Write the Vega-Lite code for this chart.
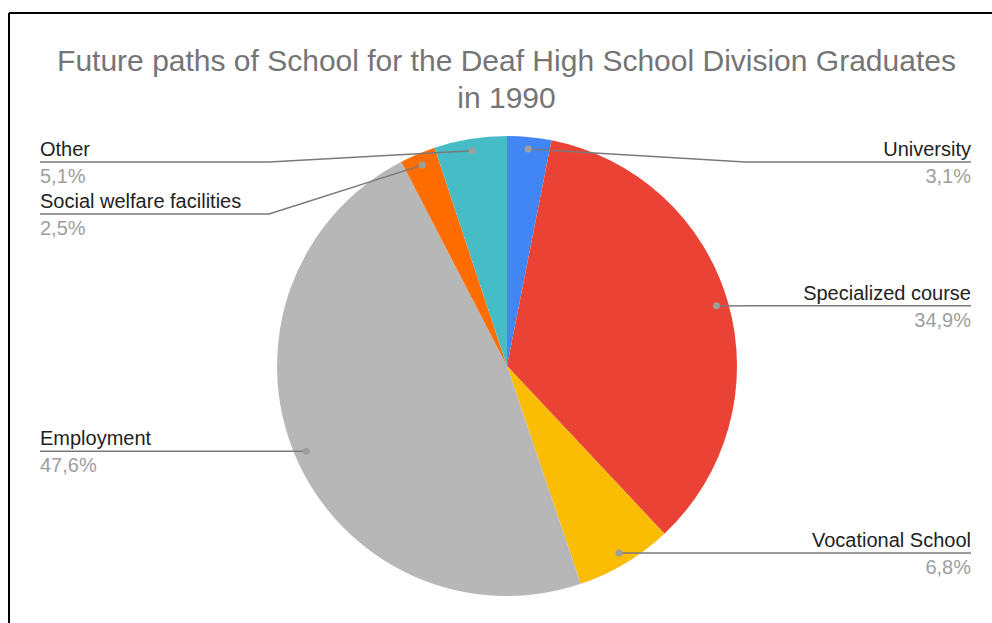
{
  "$schema": "https://vega.github.io/schema/vega-lite/v6.json",
  "width": 983,
  "height": 610,
  "autosize": {"type": "none"},
  "padding": {"left": 9, "top": 13, "right": 0, "bottom": 0},
  "background": "white",
  "title": {
    "text": ["Future paths of School for the Deaf High School Division Graduates", "in 1990"],
    "font": "Liberation Sans",
    "fontSize": 30,
    "fontWeight": "normal",
    "color": "#757575",
    "lineHeight": 37,
    "anchor": "middle",
    "frame": "group",
    "dx": 6,
    "offset": -101
  },
  "config": {
    "view": {"stroke": null},
    "axis": {
      "labels": false,
      "ticks": false,
      "grid": false,
      "title": null,
      "domain": true,
      "domainColor": "#000000",
      "domainWidth": 2,
      "translate": 0
    },
    "text": {"font": "Liberation Sans", "fontSize": 20}
  },
  "data": {
    "values": [
      {"path": "University", "share": 3.1, "order": 1},
      {"path": "Specialized course", "share": 34.9, "order": 2},
      {"path": "Vocational School", "share": 6.8, "order": 3},
      {"path": "Employment", "share": 47.6, "order": 4},
      {"path": "Social welfare facilities", "share": 2.5, "order": 5},
      {"path": "Other", "share": 5.1, "order": 6}
    ]
  },
  "transform": [
    {"stack": "share", "groupby": [], "sort": [{"field": "order", "order": "ascending"}], "as": ["start", "end"]},
    {"calculate": "PI * (datum.start + datum.end) / 100", "as": "ang"},
    {"calculate": "218 * sin(datum.ang)", "as": "dotX"},
    {"calculate": "-218 * cos(datum.ang)", "as": "dotY"},
    {"calculate": "datum.dotX >= 0 ? 'right' : 'left'", "as": "side"},
    {"window": [{"op": "row_number", "as": "rn"}], "groupby": ["side"], "sort": [{"field": "dotY", "order": "ascending"}]},
    {"calculate": "datum.dotY - 52 * (datum.rn - 1)", "as": "k"},
    {"window": [{"op": "max", "field": "k", "as": "kmax"}], "groupby": ["side"], "sort": [{"field": "dotY", "order": "ascending"}], "frame": [null, 0]},
    {"calculate": "52 * (datum.rn - 1) + max(-204, datum.kmax)", "as": "labelY"},
    {"calculate": "datum.side == 'right' ? 238 : -238", "as": "elbowX"},
    {"calculate": "datum.side == 'right' ? 464 : -467", "as": "endX"},
    {"calculate": "replace(format(datum.share, '.1f'), '.', ',') + '%'", "as": "pctLabel"}
  ],
  "layer": [
    {
      "mark": {"type": "arc", "outerRadius": 230},
      "encoding": {
        "x": {"datum": 0, "type": "quantitative", "scale": {"domain": [-498, 485], "nice": false, "zero": false}, "axis": {"orient": "top"}},
        "y": {"datum": 0, "type": "quantitative", "scale": {"domain": [-353, 257], "reverse": true, "nice": false, "zero": false}, "axis": {"orient": "left"}},
        "theta": {"field": "start", "type": "quantitative", "scale": {"domain": [0, 100], "range": [0, 6.283185307179586]}, "stack": null},
        "theta2": {"field": "end"},
        "color": {
          "field": "path",
          "type": "nominal",
          "scale": {
            "domain": ["University", "Specialized course", "Vocational School", "Employment", "Social welfare facilities", "Other"],
            "range": ["#4285F4", "#EA4335", "#FBBC04", "#B7B7B7", "#FF6D01", "#46BDC6"]
          },
          "legend": null
        }
      }
    },
    {
      "mark": {"type": "rule", "color": "#7A7A7A", "strokeWidth": 1.5},
      "encoding": {
        "x": {"field": "dotX", "type": "quantitative", "scale": {"domain": [-498, 485], "nice": false, "zero": false}, "axis": {"orient": "top"}},
        "y": {"field": "dotY", "type": "quantitative", "scale": {"domain": [-353, 257], "reverse": true, "nice": false, "zero": false}, "axis": {"orient": "left"}},
        "x2": {"field": "elbowX"},
        "y2": {"field": "labelY"}
      }
    },
    {
      "mark": {"type": "rule", "color": "#7A7A7A", "strokeWidth": 1.5},
      "encoding": {
        "x": {"field": "elbowX", "type": "quantitative", "scale": {"domain": [-498, 485], "nice": false, "zero": false}, "axis": {"orient": "top"}},
        "y": {"field": "labelY", "type": "quantitative", "scale": {"domain": [-353, 257], "reverse": true, "nice": false, "zero": false}, "axis": {"orient": "left"}},
        "x2": {"field": "endX"},
        "y2": {"field": "labelY"}
      }
    },
    {
      "mark": {"type": "point", "filled": true, "size": 50, "color": "#9E9E9E", "opacity": 1},
      "encoding": {
        "x": {"field": "dotX", "type": "quantitative", "scale": {"domain": [-498, 485], "nice": false, "zero": false}, "axis": {"orient": "top"}},
        "y": {"field": "dotY", "type": "quantitative", "scale": {"domain": [-353, 257], "reverse": true, "nice": false, "zero": false}, "axis": {"orient": "left"}}
      }
    },
    {
      "transform": [{"filter": "datum.side == 'right'"}],
      "mark": {"type": "text", "align": "right", "baseline": "alphabetic", "dy": -6, "color": "#222222"},
      "encoding": {
        "x": {"field": "endX", "type": "quantitative", "scale": {"domain": [-498, 485], "nice": false, "zero": false}, "axis": {"orient": "top"}},
        "y": {"field": "labelY", "type": "quantitative", "scale": {"domain": [-353, 257], "reverse": true, "nice": false, "zero": false}, "axis": {"orient": "left"}},
        "text": {"field": "path"}
      }
    },
    {
      "transform": [{"filter": "datum.side == 'left'"}],
      "mark": {"type": "text", "align": "left", "baseline": "alphabetic", "dy": -6, "color": "#222222"},
      "encoding": {
        "x": {"field": "endX", "type": "quantitative", "scale": {"domain": [-498, 485], "nice": false, "zero": false}, "axis": {"orient": "top"}},
        "y": {"field": "labelY", "type": "quantitative", "scale": {"domain": [-353, 257], "reverse": true, "nice": false, "zero": false}, "axis": {"orient": "left"}},
        "text": {"field": "path"}
      }
    },
    {
      "transform": [{"filter": "datum.side == 'right'"}],
      "mark": {"type": "text", "align": "right", "baseline": "alphabetic", "dy": 21, "color": "#9E9E9E"},
      "encoding": {
        "x": {"field": "endX", "type": "quantitative", "scale": {"domain": [-498, 485], "nice": false, "zero": false}, "axis": {"orient": "top"}},
        "y": {"field": "labelY", "type": "quantitative", "scale": {"domain": [-353, 257], "reverse": true, "nice": false, "zero": false}, "axis": {"orient": "left"}},
        "text": {"field": "pctLabel"}
      }
    },
    {
      "transform": [{"filter": "datum.side == 'left'"}],
      "mark": {"type": "text", "align": "left", "baseline": "alphabetic", "dy": 21, "color": "#9E9E9E"},
      "encoding": {
        "x": {"field": "endX", "type": "quantitative", "scale": {"domain": [-498, 485], "nice": false, "zero": false}, "axis": {"orient": "top"}},
        "y": {"field": "labelY", "type": "quantitative", "scale": {"domain": [-353, 257], "reverse": true, "nice": false, "zero": false}, "axis": {"orient": "left"}},
        "text": {"field": "pctLabel"}
      }
    }
  ]
}
